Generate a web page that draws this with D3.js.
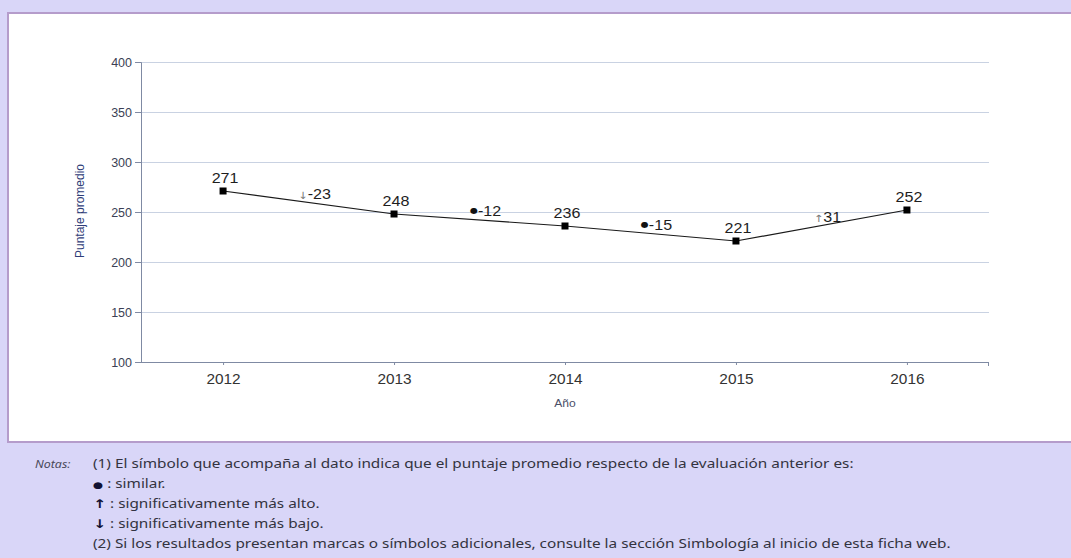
<!doctype html>
<html lang="es">
<head>
<meta charset="utf-8">
<title>Puntaje promedio</title>
<script src="https://d3js.org/d3.v7.min.js"></script>
<style>
  body { margin: 0; background: #d9d6f8; }
  svg { display: block; }
</style>
</head>
<body>
<svg id="chart" width="1071" height="558"></svg>
<script>
// data
var years = ["2012", "2013", "2014", "2015", "2016"];
var scores = [271, 248, 236, 221, 252];
var changes = ["-23", "-12", "-15", "31"];
var changeMarks = ["\u2193", "\u25CF", "\u25CF", "\u2191"];
var yTicks = [100, 150, 200, 250, 300, 350, 400];
var noteMarks = ["", "\u25CF", "\u2191", "\u2193", ""];
var notes = [
  "(1) El s\u00edmbolo que acompa\u00f1a al dato indica que el puntaje promedio respecto de la evaluaci\u00f3n anterior es:",
  " : similar.",
  " : significativamente m\u00e1s alto.",
  " : significativamente m\u00e1s bajo.",
  "(2) Si los resultados presentan marcas o s\u00edmbolos adicionales, consulte la secci\u00f3n Simbolog\u00eda al inicio de esta ficha web."
];

var svg = d3.select("#chart");
var font = "Liberation Sans, Arial, sans-serif";

// white panel
svg.append("rect")
  .attr("x", 8).attr("y", 13)
  .attr("width", 1075).attr("height", 429)
  .attr("fill", "#ffffff")
  .attr("stroke", "#b59ccb")
  .attr("stroke-width", 2);

var plotL = 141, plotR = 989, plotT = 62, plotB = 362;

var x = d3.scalePoint().domain(years).range([plotL, plotR]).padding(0.48);
var y = d3.scaleLinear().domain([100, 400]).range([plotB, plotT]);

// gridlines
svg.append("g")
  .selectAll("line")
  .data(yTicks.slice(1))
  .enter().append("line")
  .attr("x1", plotL).attr("x2", plotR)
  .attr("y1", function(d) { return y(d) + 0.5; })
  .attr("y2", function(d) { return y(d) + 0.5; })
  .attr("stroke", "#c9d2e2")
  .attr("stroke-width", 1);

// y axis
var yAxis = svg.append("g")
  .attr("transform", "translate(" + plotL + ",0)")
  .call(d3.axisLeft(y).tickValues(yTicks).tickSize(6).tickPadding(3));
yAxis.select(".domain").attr("stroke", "#7f8aa3");
yAxis.selectAll(".tick line").attr("stroke", "#7f8aa3");
yAxis.selectAll("text")
  .attr("fill", "#3b3f55")
  .style("font-family", font)
  .style("font-size", "12.5px");

// x axis
var xAxis = svg.append("g")
  .attr("transform", "translate(0," + plotB + ")")
  .call(d3.axisBottom(x).tickSize(3).tickPadding(9).tickSizeOuter(0));
xAxis.select(".domain").attr("stroke", "#7f8aa3").attr("d", "M" + plotL + ",0.5H" + plotR);
xAxis.selectAll(".tick line").attr("stroke", "#7f8aa3");
xAxis.selectAll("text")
  .attr("fill", "#333333")
  .style("font-family", font)
  .style("font-size", "14px")
  .attr("transform", "scale(1.1,1)");
xAxis.append("line")
  .attr("x1", plotR - 0.5).attr("x2", plotR - 0.5)
  .attr("y1", 0).attr("y2", 4)
  .attr("stroke", "#7f8aa3");

// axis titles
svg.append("text")
  .attr("transform", "translate(84," + (y(250) - 1) + ") rotate(-90)")
  .attr("text-anchor", "middle")
  .attr("fill", "#2f3d78")
  .style("font-family", font)
  .style("font-size", "12px")
  .text("Puntaje promedio");

svg.append("text")
  .attr("transform", "translate(" + x("2014") + ",407) scale(1.1,1)")
  .attr("text-anchor", "middle")
  .attr("fill", "#4a5068")
  .style("font-family", font)
  .style("font-size", "11px")
  .text("A\u00f1o");

// line
var line = d3.line()
  .x(function(d, i) { return x(years[i]); })
  .y(function(d) { return y(d); });

svg.append("path")
  .datum(scores)
  .attr("d", line)
  .attr("fill", "none")
  .attr("stroke", "#1a1a1a")
  .attr("stroke-width", 1.2);

svg.append("g")
  .selectAll("rect")
  .data(scores)
  .enter().append("rect")
  .attr("x", function(d, i) { return x(years[i]) - 3.5; })
  .attr("y", function(d) { return y(d) - 3.5; })
  .attr("width", 7).attr("height", 7)
  .attr("fill", "#000");

// value labels
svg.append("g")
  .selectAll("text")
  .data(scores)
  .enter().append("text")
  .attr("transform", function(d, i) {
    return "translate(" + (x(years[i]) + 2) + "," + (y(d) - 8) + ") scale(1.15,1)";
  })
  .attr("text-anchor", "middle")
  .attr("fill", "#1e1e1e")
  .style("font-family", font)
  .style("font-size", "14px")
  .text(function(d) { return d; });

// change labels between years
var chg = svg.append("g")
  .selectAll("text")
  .data(changes)
  .enter().append("text")
  .attr("transform", function(d, i) {
    var mx = (x(years[i]) + x(years[i + 1])) / 2 + 6;
    var my = y((scores[i] + scores[i + 1]) / 2) - 4;
    return "translate(" + mx + "," + my + ") scale(1.15,1)";
  })
  .attr("text-anchor", "middle")
  .attr("fill", "#1e1e1e")
  .style("font-family", font)
  .style("font-size", "14px");
chg.append("tspan")
  .style("font-family", "DejaVu Sans, sans-serif")
  .style("font-size", function(d, i) { return changeMarks[i] === "\u25CF" ? "8px" : "10px"; })
  .attr("fill", function(d, i) { return changeMarks[i] === "\u25CF" ? "#111111" : "#777777"; })
  .attr("dy", function(d, i) { return changeMarks[i] === "\u25CF" ? "-3" : "0"; })
  .text(function(d, i) { return changeMarks[i]; });
chg.append("tspan")
  .attr("dy", function(d, i) { return changeMarks[i] === "\u25CF" ? "3" : "0"; })
  .text(function(d) { return d; });

// notes
svg.append("text")
  .attr("transform", "translate(35,468) scale(1.08,1)")
  .attr("fill", "#4a4a5a")
  .style("font-family", "Noto Sans, sans-serif")
  .style("font-size", "11.5px")
  .style("font-style", "italic")
  .text("Notas:");

var noteText = svg.append("g")
  .selectAll("text")
  .data(notes)
  .enter().append("text")
  .attr("transform", function(d, i) {
    return "translate(93," + (468 + i * 20) + ") scale(1.3,1)";
  })
  .attr("fill", "#333340")
  .style("font-family", "Noto Sans, sans-serif")
  .style("font-size", "11.8px");
noteText.append("tspan")
  .style("font-family", "DejaVu Sans, sans-serif")
  .style("font-size", function(d, i) { return noteMarks[i] === "\u25CF" ? "9px" : "12px"; })
  .style("font-weight", "bold")
  .attr("fill", "#111133")
  .text(function(d, i) { return noteMarks[i]; });
noteText.append("tspan")
  .text(function(d) { return d; });
</script>
</body>
</html>
